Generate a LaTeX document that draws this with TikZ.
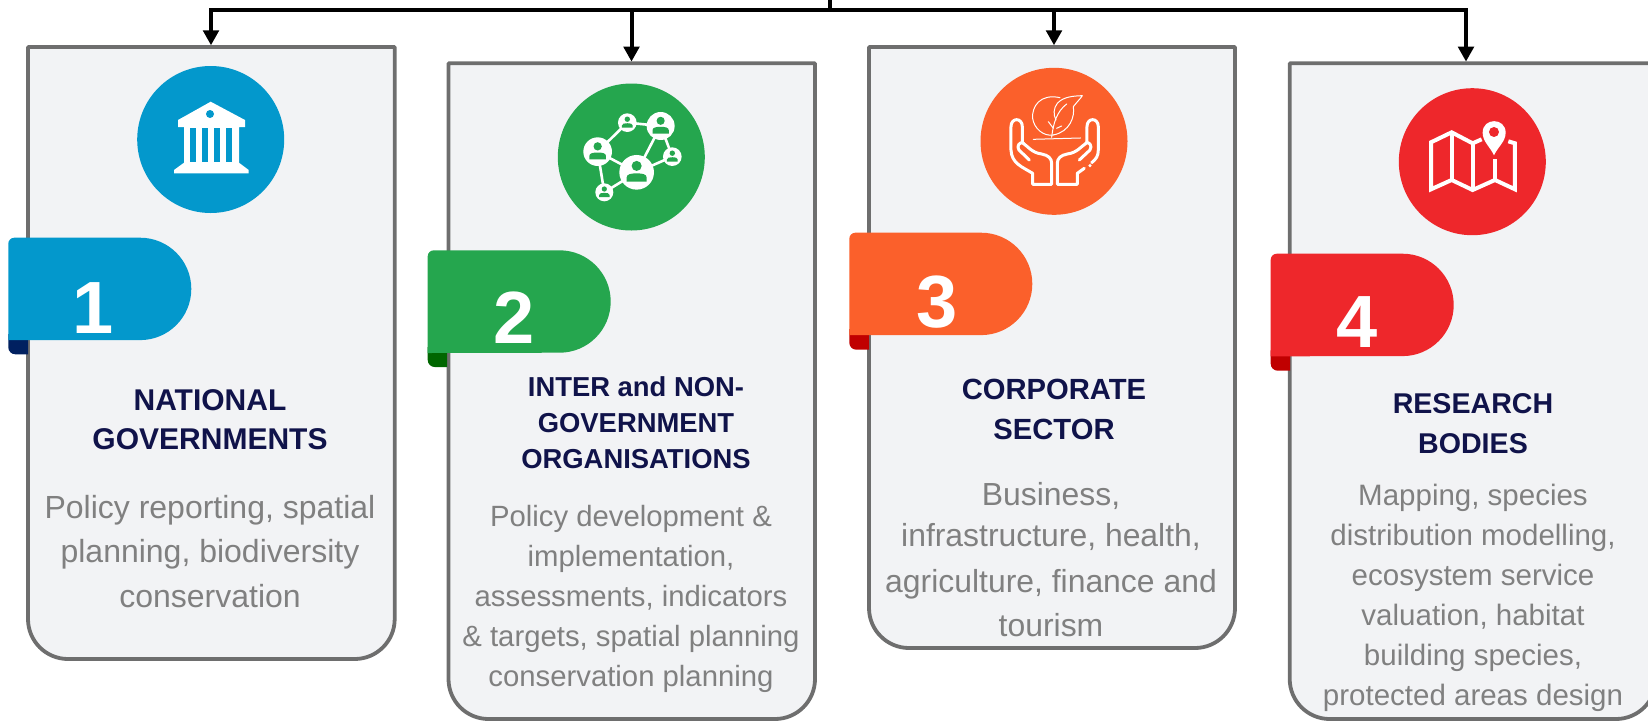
\documentclass[tikz,border=0pt]{standalone}
\usepackage{fontspec}
\setmainfont{Liberation Sans}
\usetikzlibrary{arrows.meta,calc}
\definecolor{cardfill}{HTML}{F2F3F5}
\definecolor{cardedge}{HTML}{6E6E6E}
\definecolor{cblue}{HTML}{0398CC}
\definecolor{cgreen}{HTML}{25A64E}
\definecolor{corange}{HTML}{FB602B}
\definecolor{cred}{HTML}{EE272B}
\definecolor{fblue}{HTML}{002060}
\definecolor{fgreen}{HTML}{006600}
\definecolor{fred}{HTML}{C00000}
\definecolor{titlec}{HTML}{10134A}
\definecolor{bodyc}{HTML}{808080}
\tikzset{
  cardbox/.style={draw=cardedge,fill=cardfill,line width=3.8pt,line join=round},
  cardanchor/.style={rectangle,inner sep=0pt,outer sep=0pt},
  bus/.style={draw=black,line width=4pt},
  drop/.style={draw=black,line width=4pt,-{Triangle[width=15.5pt,length=15pt]}},
  iconcircle/.style={circle,inner sep=0pt,outer sep=0pt,minimum size=147pt},
  numlabel/.style={anchor=base,text=white,inner sep=0pt,font=\fontsize{74}{74}\selectfont\bfseries},
  titlelabel/.style={anchor=base,align=center,text=titlec,inner sep=0pt},
  bodylabel/.style={anchor=base,align=center,text=bodyc,inner sep=0pt},
  wline/.style={draw=white,line width=3pt,line cap=round,line join=round},
  wthin/.style={draw=white,line width=1pt,line cap=round,line join=round},
  wmap/.style={draw=white,line width=4pt,line join=miter},
}
% card: name, left, top, right, bottom
\newcommand{\mycard}[5]{%
  \draw[cardbox] (#2,#3) -- (#4,#3) -- (#4,{#5-40}) arc[start angle=0,end angle=90,radius=40]
     -- ({#2+40},#5) arc[start angle=90,end angle=180,radius=40] -- cycle;
  \node[cardanchor,minimum width={#4-#2+3.4},minimum height={#5-#3+3.4}] (#1) at ({(#2+#4)/2},{(#3+#5)/2}) {};
}
% ribbon: colour, fold colour, left, top, right, bottom, foldbottom, foldright
\newcommand{\myribbon}[8]{%
  \fill[#2] ({#3+7},{#6-6}) -- (#8,{#6-6}) -- (#8,#7) -- ({#3+7},#7) arc[start angle=90,end angle=180,radius=7]
     -- (#3,{#6-6}) -- cycle;
  \fill[#1] ({#3+6},#4) -- ({#5-51.2},#4) arc[start angle=-90,end angle=90,radius=51.2]
     -- (#3,#6) -- (#3,{#4+6}) arc[start angle=180,end angle=270,radius=6] -- cycle;
}
% person: x, y, R, colour
\newcommand{\myperson}[4]{%
  \fill[white] (#1,#2) circle[radius=#3];
  \fill[#4] (#1,{#2-0.37*#3}) circle[radius={0.29*#3}];
  \fill[#4] ({#1-0.58*#3},{#2+0.54*#3}) -- ({#1-0.58*#3},{#2+0.3*#3})
     .. controls ({#1-0.58*#3},{#2+0.1*#3}) and ({#1-0.3*#3},{#2+0.06*#3}) .. (#1,{#2+0.06*#3})
     .. controls ({#1+0.3*#3},{#2+0.06*#3}) and ({#1+0.58*#3},{#2+0.1*#3}) .. ({#1+0.58*#3},{#2+0.3*#3})
     -- ({#1+0.58*#3},{#2+0.54*#3}) -- cycle;
}
\begin{document}
\begin{tikzpicture}[x=1pt,y=-1pt]
\useasboundingbox (0,0) rectangle (1648,721);
% cards
\mycard{c1}{28}{47}{394.7}{659}
\mycard{c2}{448.5}{63.3}{815}{719}
\mycard{c3}{869}{47}{1235}{648}
\mycard{c4}{1289.7}{63.3}{1656}{719}
% connectors
\coordinate (top) at (829.5,0);
\coordinate (j0) at (829.5,10);
\coordinate (j1) at (211,10);
\coordinate (j2) at (631.5,10);
\coordinate (j3) at (1054,10);
\coordinate (j4) at (1466,10);
\draw[bus] (top) -- (j0);
\draw[bus,line cap=rect] (j1) -- (j4);
\draw[drop] (j1) -- (j1 |- c1.north);
\draw[drop] (j2) -- (j2 |- c2.north);
\draw[drop] (j3) -- (j3 |- c3.north);
\draw[drop] (j4) -- (j4 |- c4.north);
% icon circles
\node[iconcircle,fill=cblue] (ic1) at (210.7,139.5) {};
\node[iconcircle,fill=cgreen] (ic2) at (631.3,157) {};
\node[iconcircle,fill=corange] (ic3) at (1054,141.3) {};
\node[iconcircle,fill=cred] (ic4) at (1472.3,161.7) {};
% ribbons
\myribbon{cblue}{fblue}{8.3}{237.7}{191.3}{340}{354.3}{28}
\myribbon{cgreen}{fgreen}{427.7}{250.3}{610.7}{353}{367}{447}
\myribbon{corange}{fred}{849.3}{232.7}{1032.3}{335}{349.7}{869}
\myribbon{cred}{fred}{1270.7}{253.7}{1453.7}{356.3}{370.7}{1290}
\node[numlabel] (n1) at (93,333) {1};
\node[numlabel] (n2) at (514.5,343) {2};
\node[numlabel] (n3) at (937,327) {3};
\node[numlabel] (n4) at (1357.5,347) {4};
% bank icon
\fill[white] (210.7,101.7) -- (245,120) -- (245,127) -- (239,127) -- (239,162.7) -- (248.7,170) -- (248.7,173.3)
   -- (174,173.3) -- (174,170) -- (184,162.7) -- (184,127) -- (178,127) -- (178,120) -- cycle;
\fill[cblue] (210,114) circle[radius=4];
\foreach \gx in {190,202.3,214.3,226.3} \fill[cblue] (\gx,128.3) rectangle ({\gx+6},161.7);
% network icon
\begin{scope}[shift={(420,0)},x=0.3333pt,y=-0.3333pt]
  \draw[white,line width=2.6pt] (533,455) -- (622,368) -- (722,378) -- (650,517) -- (533,455) -- (553,577) -- (650,517) -- (757,470) -- (722,378);
  \myperson{650}{517}{52}{cgreen}
  \myperson{533}{455}{43}{cgreen}
  \myperson{622}{368}{28}{cgreen}
  \myperson{722}{378}{42}{cgreen}
  \myperson{757}{470}{28}{cgreen}
  \myperson{553}{577}{27}{cgreen}
\end{scope}
% hands and leaf icon
\begin{scope}[shift={(840,0)},x=0.3333pt,y=-0.3333pt]
  \draw[wline] (578,520) .. controls (545,500) and (515,490) .. (513,450) -- (513,380)
     .. controls (513,352) and (547,352) .. (547,380) -- (547,428)
     .. controls (565,440) and (575,458) .. (605,462) .. controls (625,466) and (635,475) .. (635,490)
     -- (635,553) -- (578,553) -- cycle;
  \draw[wline] (568,480) -- (537,450) .. controls (528,438) and (540,425) .. (550,428);
  \draw[wline] (733,505) -- (712,520) -- (712,553) -- (652,553) -- (652,490)
     .. controls (652,475) and (662,466) .. (682,462) .. controls (712,458) and (722,440) .. (741,428)
     -- (741,380) .. controls (741,352) and (775,352) .. (775,380) -- (775,450) .. controls (775,468) and (768,478) .. (755,488);
  \draw[wline] (718,480) -- (750,450) .. controls (758,438) and (748,425) .. (738,428);
  \fill[white] (750,497) circle[radius=5];
  \draw[wthin] (580,418) -- (722,414);
  \draw[wthin] (635,412) .. controls (640,370) and (650,335) .. (680,312);
  \draw[wthin] (660,293) .. controls (600,280) and (575,320) .. (578,355) .. controls (582,385) and (610,410) .. (640,405);
  \draw[wthin] (640,405) .. controls (690,395) and (705,350) .. (700,320) .. controls (712,305) and (722,295) .. (727,287)
     .. controls (700,288) and (670,290) .. (652,310) .. controls (640,325) and (640,345) .. (648,360);
  \draw[wthin] (625,365) -- (640,385) (650,385) -- (665,378);
\end{scope}
% map icon
\begin{scope}[shift={(1260,0)},x=0.3333pt,y=-0.3333pt]
  \draw[wmap] (665,418) -- (638,430) -- (575,397) -- (513,427) -- (513,568) -- (575,540) -- (638,570) -- (705,540) -- (765,568) -- (765,430) -- (745,424);
  \draw[wmap] (575,397) -- (575,540);
  \draw[wmap] (638,430) -- (638,570);
  \draw[wmap] (705,478) -- (705,540);
  \fill[white] (702,466) .. controls (690,440) and (668,425) .. (668,398) .. controls (668,352) and (737,352) .. (737,398) .. controls (737,425) and (714,440) .. (702,466) -- cycle;
  \fill[cred] (702,396) circle[radius=15];
\end{scope}
% titles (anchored at the baseline of their last line)
\node[titlelabel,font=\fontsize{30}{39}\selectfont\bfseries] (t1) at (210,449) {NATIONAL\\GOVERNMENTS};
\node[titlelabel,font=\fontsize{27.4}{35.7}\selectfont\bfseries] (t2) at (636,468) {INTER and NON-\\GOVERNMENT\\ORGANISATIONS};
\node[titlelabel,font=\fontsize{29.2}{40}\selectfont\bfseries] (t3) at (1054,439) {CORPORATE\\SECTOR};
\node[titlelabel,font=\fontsize{28.6}{40}\selectfont\bfseries] (t4) at (1473,453) {RESEARCH\\BODIES};
% descriptions
\node[bodylabel,font=\fontsize{32}{43.7}\selectfont] (b1) at (210,607) {Policy reporting, spatial\\planning, biodiversity\\[1.3pt]conservation};
\node[bodylabel,font=\fontsize{29.3}{40}\selectfont] (b2) at (631,686) {Policy development \&\\implementation,\\assessments, indicators\\\& targets, spatial planning\\conservation planning};
\node[bodylabel,font=\fontsize{31.9}{41.7}\selectfont] (b3) at (1051,636) {Business,\\infrastructure, health,\\[4.3pt]agriculture, finance and\\[1.6pt]tourism};
\node[bodylabel,font=\fontsize{29.5}{40}\selectfont] (b4) at (1473,705) {Mapping, species\\distribution modelling,\\ecosystem service\\valuation, habitat\\building species,\\protected areas design};
\end{tikzpicture}
\end{document}
